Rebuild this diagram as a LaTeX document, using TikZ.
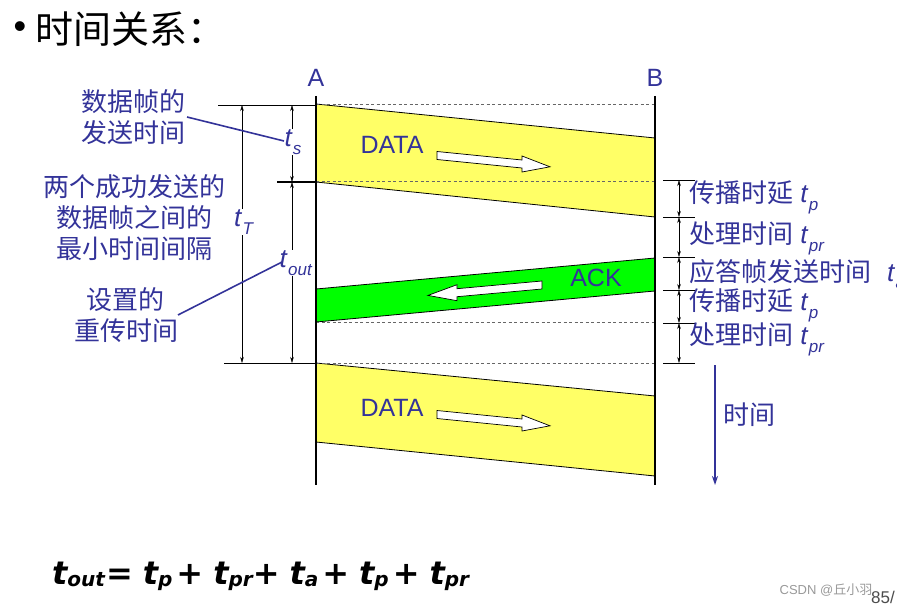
\documentclass[tikz,border=0pt]{standalone}
\usepackage{fontspec}
\setmainfont{Liberation Sans}
\newfontfamily\cjk{Noto Sans CJK SC}
\newfontfamily\formf{DejaVu Sans}[BoldItalicFont={DejaVu Sans Bold Oblique},BoldFont={DejaVu Sans Bold},ItalicFont={DejaVu Sans Oblique}]
\usetikzlibrary{arrows.meta}
\definecolor{tblue}{RGB}{51,51,153}
\definecolor{byellow}{RGB}{255,255,102}
\definecolor{bgreen}{RGB}{0,255,0}
\newcommand\tv[1]{\textit{t}\kern0.3pt\raisebox{-0.3em}{\fontsize{17}{17}\selectfont\textit{#1}}}
\newcommand\fs[1]{\raisebox{-0.07em}{\fontsize{20}{20}\selectfont #1}}
\newcommand\fsa{\hspace{10pt}}
\newcommand\fsb{\hspace{4pt}}
\tikzset{
  cjklbl/.style={text=tblue, font=\cjk\fontsize{26}{31}\selectfont, align=center, inner sep=0pt},
  rlbl/.style={text=tblue, font=\fontsize{26}{31}\selectfont, anchor=west, inner sep=0pt},
  tlbl/.style={text=tblue, font=\fontsize{26}{31}\selectfont, fill=white, inner sep=1pt},
  bandtxt/.style={text=tblue, font=\fontsize{25}{30}\selectfont, inner sep=0pt},
  dimarrow/.style={thin, {Stealth[length=6pt,width=3.5pt]}-{Stealth[length=6pt,width=3.5pt]}},
  dashln/.style={gray!80!black, dashed, dash pattern=on 3pt off 2.5pt, line width=0.7pt},
  callout/.style={tblue, line width=1.6pt},
  bandedge/.style={black, line width=0.8pt},
  whitearrow/.style={fill=white, draw=black, line width=0.7pt},
}
\begin{document}
\begin{tikzpicture}[x=1pt,y=-1pt]
\useasboundingbox (0,0) rectangle (897,607);
% title
\node[inner sep=0pt, font=\fontsize{36}{40}\selectfont] (bul) at (20,30) {•};
\node[inner sep=0pt, anchor=west, font=\cjk\fontsize{38}{42}\selectfont] (title) at (35,29) {时间关系：};
% coordinates
\coordinate (At) at (316,96); \coordinate (Ab) at (316,485);
\coordinate (Bt) at (655,96); \coordinate (Bb) at (655,485);
\node[bandtxt] (lA) at (316,78) {A};
\node[bandtxt] (lB) at (655,78) {B};
% bands
\coordinate (d1a) at (316,104); \coordinate (d1b) at (655,138);
\coordinate (d1c) at (655,217); \coordinate (d1d) at (316,182);
\fill[byellow] (d1a) -- (d1b) -- (d1c) -- (d1d) -- cycle;
\draw[bandedge] (d1a) -- (d1b); \draw[bandedge] (d1d) -- (d1c);
\coordinate (k1a) at (655,258); \coordinate (k1b) at (655,291);
\coordinate (k1c) at (316,322); \coordinate (k1d) at (316,289);
\fill[bgreen] (k1a) -- (k1b) -- (k1c) -- (k1d) -- cycle;
\draw[bandedge] (k1a) -- (k1d); \draw[bandedge] (k1b) -- (k1c);
\coordinate (d2a) at (316,363); \coordinate (d2b) at (655,396);
\coordinate (d2c) at (655,476); \coordinate (d2d) at (316,442);
\fill[byellow] (d2a) -- (d2b) -- (d2c) -- (d2d) -- cycle;
\draw[bandedge] (d2a) -- (d2b); \draw[bandedge] (d2d) -- (d2c);
% dashed lines
\draw[dashln] (316,104) -- (655,104);
\draw[dashln] (316,181) -- (655,181);
\draw[dashln] (316,322) -- (655,322);
\draw[dashln] (316,363) -- (655,363);
% white arrows
\draw[whitearrow] (437,151.5) -- (522,160) -- (522,156) -- (550,166.8) -- (522,172) -- (522,168) -- (437,159.5) -- cycle;
\draw[whitearrow] (542,281) -- (457,288.7) -- (457,284.7) -- (428,295.4) -- (457,300.7) -- (457,296.7) -- (542,289) -- cycle;
\begin{scope}[yshift=-259pt]
\draw[whitearrow] (437,151.5) -- (522,160) -- (522,156) -- (550,166.8) -- (522,172) -- (522,168) -- (437,159.5) -- cycle;
\end{scope}
\node[bandtxt] (data1) at (392,145) {DATA};
\node[bandtxt] (ack) at (596,278) {ACK};
\node[bandtxt] (data2) at (392,408) {DATA};
% A and B lines
\draw[line width=2pt] (At) -- (Ab);
\draw[line width=2pt] (Bt) -- (Bb);
% left ticks
\coordinate (L1a) at (218,105); \coordinate (L1b) at (316,105);
\coordinate (L2a) at (277,182); \coordinate (L2b) at (316,182);
\coordinate (L3a) at (224,363); \coordinate (L3b) at (316,363);
\draw[thin] (L1a) -- (L1b);
\draw[line width=1.5pt] (L2a) -- (L2b);
\draw[thin] (L3a) -- (L3b);
% left dimension arrows
\coordinate (tT1) at (242,105); \coordinate (tT2) at (242,363);
\coordinate (ts1) at (292,105); \coordinate (ts2) at (292,182);
\coordinate (to2) at (292,363);
\draw[dimarrow] (tT1) -- (tT2);
\draw[dimarrow] (ts1) -- (ts2);
\draw[dimarrow] (ts2) -- (to2);
\node[tlbl] (ts) at (293,142) {\tv{s}};
\node[tlbl] (tT) at (244,222) {\tv{T}};
\node[tlbl] (tout) at (296,263) {\tv{out}};
% left texts
\node[cjklbl] (txt1) at (133.5,117.5) {数据帧的\\发送时间};
\node[cjklbl] (txt2) at (134.5,218) {两个成功发送的\\数据帧之间的\\最小时间间隔};
\node[cjklbl] (txt3) at (126,315) {设置的\\重传时间};
\coordinate (c1a) at (187,117); \coordinate (c1b) at (284,141);
\coordinate (c2a) at (178,315); \coordinate (c2b) at (282,262);
\draw[callout] (c1a) -- (c1b);
\draw[callout] (c2a) -- (c2b);
% right ticks
\foreach \yy/\nm in {180/r1,217/r2,257/r3,290/r4,323/r5,363/r6}{
  \coordinate (\nm a) at (663,\yy); \coordinate (\nm b) at (695,\yy);
  \coordinate (\nm m) at (679,\yy);
  \draw[thin] (\nm a) -- (\nm b);
}
\draw[dimarrow] (r1m) -- (r2m);
\draw[dimarrow] (r2m) -- (r3m);
\draw[dimarrow] (r3m) -- (r4m);
\draw[dimarrow] (r4m) -- (r5m);
\draw[dimarrow] (r5m) -- (r6m);
\node[rlbl] (rl1) at (689,197) {{\cjk 传播时延} \tv{p}};
\node[rlbl] (rl2) at (689,238) {{\cjk 处理时间} \tv{pr}};
\node[rlbl] (rl3) at (689,274) {{\cjk 应答帧发送时间}\hspace{16pt}\tv{a}};
\node[rlbl] (rl4) at (689,305) {{\cjk 传播时延} \tv{p}};
\node[rlbl] (rl5) at (689,339) {{\cjk 处理时间} \tv{pr}};
% time arrow
\coordinate (ta1) at (715,365); \coordinate (ta2) at (715,485);
\draw[tblue, line width=2pt, -{Stealth[length=9pt,width=6pt]}] (ta1) -- (ta2);
\node[cjklbl] (time) at (749,415) {时间};
% formula
\node[anchor=base west, inner sep=0pt, font=\formf\bfseries\itshape\fontsize{32}{36}\selectfont] (formula) at (52,584)
  {t\fs{out}\hspace{1pt}=\fsa t\fs{p}\fsb+\fsa t\fs{pr}+\fsa t\fs{a}\fsb+\fsa t\fs{p}\fsb+\fsa t\fs{pr}};
% watermark
\node[inner sep=0pt, text=gray!80, font=\fontsize{13}{15}\selectfont] (wm) at (826,590) {CSDN @{\cjk 丘小羽}};
\node[inner sep=0pt, anchor=west, text=gray!60!black, font=\fontsize{17}{19}\selectfont] (pg) at (871,597) {85/};
\end{tikzpicture}
\end{document}
